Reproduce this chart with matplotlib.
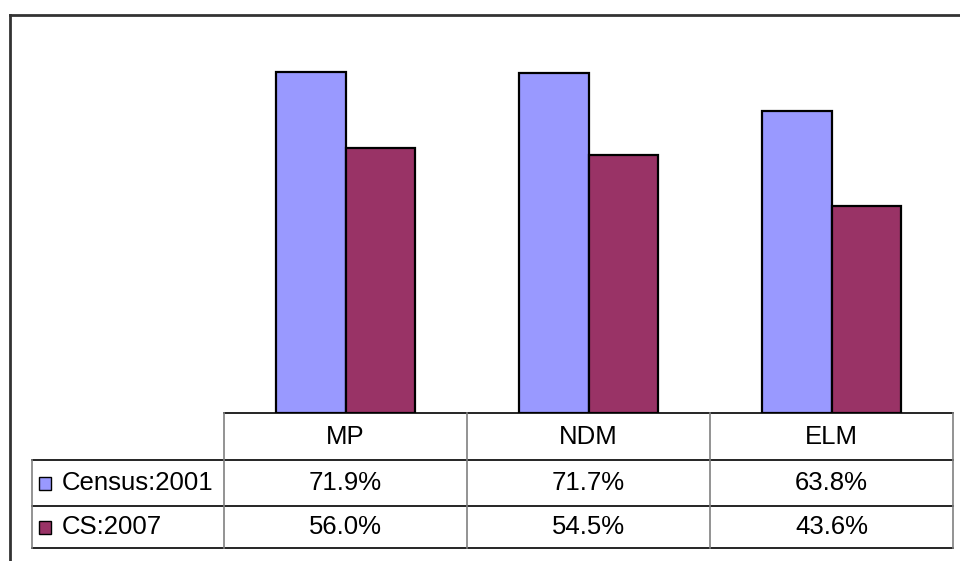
import matplotlib
matplotlib.use('Agg')
import matplotlib.pyplot as plt
from matplotlib.lines import Line2D
from matplotlib.patches import Rectangle
import numpy as np

plt.rcParams['font.family'] = ['Liberation Sans', 'DejaVu Sans']

# data
categories = ['MP', 'NDM', 'ELM']
series_names = ['Census:2001', 'CS:2007']
census_2001 = [71.9, 71.7, 63.8]
cs_2007 = [56.0, 54.5, 43.6]

BLUE = '#9999FF'
PLUM = '#993366'
colors = [BLUE, PLUM]

W, H = 960, 561
fig = plt.figure(figsize=(W / 100, H / 100), dpi=100)
fig.patch.set_facecolor('white')


def fx(px):
    return px / W


def fy(py):
    return 1 - py / H


# plot area (pixel coords of the reference)
left, right, top, base = 224, 953, 34, 413
ax = fig.add_axes([fx(left), fy(base), fx(right) - fx(left), fy(top) - fy(base)])
x = np.arange(len(categories))
bw = 0.288
ax.bar(x - bw / 2, census_2001, bw, color=BLUE, edgecolor='black', linewidth=1.6)
ax.bar(x + bw / 2, cs_2007, bw, color=PLUM, edgecolor='black', linewidth=1.6)
ax.set_xlim(-0.5, len(categories) - 0.5)
ax.set_ylim(0, 80)
ax.axis('off')

# outer frame (only left and top visible)
fig.add_artist(Line2D([fx(10), fx(10)], [fy(15), 0], transform=fig.transFigure,
                      color='#333333', lw=2))
fig.add_artist(Line2D([fx(10), 1], [fy(15), fy(15)], transform=fig.transFigure,
                      color='#333333', lw=2))

# data table
col_edges = np.linspace(left, right, len(categories) + 1)
row_edges = [413, 460, 506, 548]
leg_left = 32


def hline(y, x0, x1, c='black'):
    fig.add_artist(Line2D([fx(x0), fx(x1)], [fy(y), fy(y)], transform=fig.transFigure,
                          color=c, lw=1.2))


def vline(xp, y0, y1, c='#808080'):
    fig.add_artist(Line2D([fx(xp), fx(xp)], [fy(y0), fy(y1)], transform=fig.transFigure,
                          color=c, lw=1.2))


hline(row_edges[0], left, right)
for y in row_edges[1:]:
    hline(y, leg_left, right)
vline(leg_left, row_edges[1], row_edges[3])
for xe in col_edges:
    vline(xe, row_edges[0], row_edges[3])

centers = (col_edges[:-1] + col_edges[1:]) / 2
for cx, cat in zip(centers, categories):
    fig.text(fx(cx), fy((row_edges[0] + row_edges[1]) / 2), cat, ha='center',
             va='center', fontsize=18.5)

for r, (name, vals, c) in enumerate(zip(series_names, [census_2001, cs_2007], colors)):
    yc = (row_edges[r + 1] + row_edges[r + 2]) / 2
    fig.add_artist(Rectangle((fx(39), fy(yc + 6.5)), fx(12), 13 / H,
                             transform=fig.transFigure, facecolor=c,
                             edgecolor='black', lw=1))
    fig.text(fx(62), fy(yc), name, ha='left', va='center', fontsize=18.5)
    for cx, v in zip(centers, vals):
        fig.text(fx(cx), fy(yc), f'{v:.1f}%', ha='center', va='center', fontsize=18.5)

fig.savefig('out.png', dpi=100, facecolor='white')
